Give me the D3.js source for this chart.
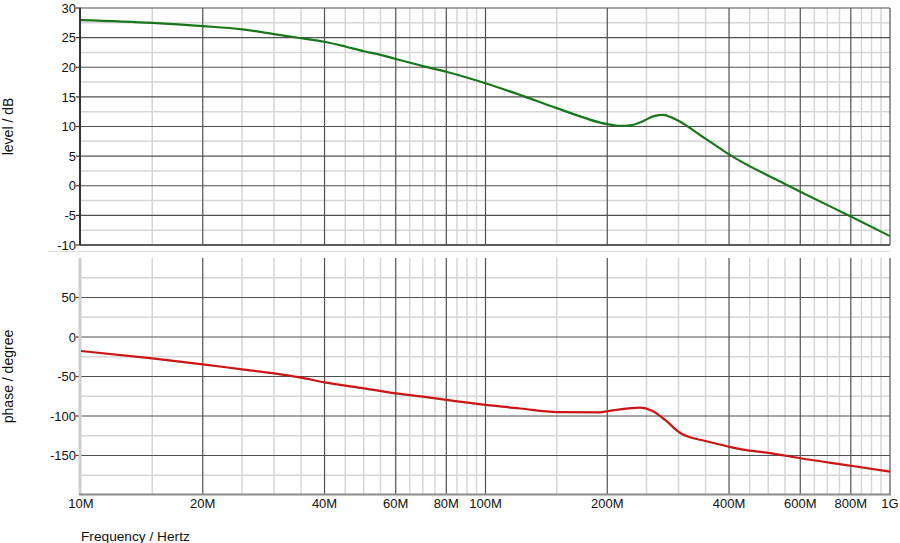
<!DOCTYPE html>
<html>
<head>
<meta charset="utf-8">
<script src="https://cdn.jsdelivr.net/npm/d3@7"></script>
<style>
  html, body { margin: 0; padding: 0; background: #fff; }
  svg { display: block; font-family: "Liberation Sans", Arial, sans-serif; }
</style>
</head>
<body>
<svg id="chart" width="900" height="543"></svg>
<script>
// ---------- data ----------
const levelFreqMHz = [10, 15, 20, 25, 30, 35, 40, 45, 50, 55, 60, 70, 80, 100, 122, 150, 200, 215, 230, 245, 262, 275, 289, 303, 339, 380, 400, 550, 600, 800, 1000];
const levelDb      = [27.97, 27.5, 26.95, 26.4, 25.6, 24.9, 24.3, 23.5, 22.7, 22.1, 21.4, 20.2, 19.25, 17.3, 15.3, 13.1, 10.4, 10.1, 10.25, 10.9, 11.8, 11.95, 11.5, 10.8, 8.57, 6.3, 5.3, 0.3, -1.0, -5.2, -8.5];

const phaseFreqMHz = [10, 15, 20, 25, 30, 35, 40, 50, 60, 70, 80, 100, 122, 150, 192, 200, 215, 241, 258, 278, 303, 320, 339, 400, 426, 505, 600, 800, 1000];
const phaseDeg     = [-17.7, -27, -34.6, -40.9, -46, -51.5, -57.4, -65, -71.3, -75.5, -79.7, -86, -90.5, -95, -95.3, -94, -91.5, -89.5, -93.3, -105, -121.5, -127, -130, -138.9, -142, -147, -153.5, -163, -170.5];

const xMajorMHz = [10, 20, 40, 60, 80, 100, 200, 400, 600, 800, 1000];
const xMinorMHz = [15, 25, 30, 35, 45, 50, 55, 65, 70, 75, 85, 90, 95, 150, 250, 300, 350, 450, 500, 550, 650, 700, 750, 850, 900, 950];
const xTickLabels = ["10M", "20M", "40M", "60M", "80M", "100M", "200M", "400M", "600M", "800M", "1G"];

const levelMajor = [30, 25, 20, 15, 10, 5, 0, -5, -10];
const levelMinor = [27.5, 22.5, 17.5, 12.5, 7.5, 2.5, -2.5, -7.5];
const phaseMajor = [50, 0, -50, -100, -150];
const phaseMinor = [75, 25, -25, -75, -125, -175];

// ---------- layout ----------
const svg = d3.select("#chart");
const x = d3.scaleLog().domain([1e7, 1e9]).range([81, 890]);
const yTop = d3.scaleLinear().domain([-10, 30]).range([245, 8]);
const yBot = d3.scaleLinear().domain([-200, 100]).range([495, 258]);

const MAJ = "#505050", MIN = "#d6d6d6";

function panel(y, majorVals, minorVals, yTopPx, yBotPx) {
  const g = svg.append("g");
  g.selectAll(".vmin").data(xMinorMHz).join("line")
    .attr("x1", d => x(d * 1e6)).attr("x2", d => x(d * 1e6))
    .attr("y1", yTopPx).attr("y2", yBotPx)
    .attr("stroke", MIN).attr("stroke-width", 1.5);
  g.selectAll(".hmin").data(minorVals).join("line")
    .attr("x1", x(1e7)).attr("x2", x(1e9))
    .attr("y1", d => y(d)).attr("y2", d => y(d))
    .attr("stroke", MIN).attr("stroke-width", 1.5);
  g.selectAll(".vmaj").data(xMajorMHz.slice(1)).join("line")
    .attr("x1", d => x(d * 1e6)).attr("x2", d => x(d * 1e6))
    .attr("y1", yTopPx).attr("y2", yBotPx)
    .attr("stroke", MAJ).attr("stroke-width", 1.2);
  g.selectAll(".hmaj").data(majorVals).join("line")
    .attr("x1", x(1e7)).attr("x2", x(1e9))
    .attr("y1", d => y(d)).attr("y2", d => y(d))
    .attr("stroke", MAJ).attr("stroke-width", 1.2);
  g.selectAll(".tk").data(majorVals).join("line")
    .attr("x1", 76).attr("x2", 81)
    .attr("y1", d => y(d)).attr("y2", d => y(d))
    .attr("stroke", "#333").attr("stroke-width", 1.2);
  g.selectAll(".tl").data(majorVals).join("text")
    .attr("x", 76).attr("y", d => y(d)).attr("dy", "0.36em")
    .attr("text-anchor", "end").attr("font-size", 13).attr("fill", "#111")
    .text(d => d);
  return g;
}

panel(yTop, levelMajor, levelMinor, 8, 245);
panel(yBot, phaseMajor, phaseMinor, 258, 494);

// axes lines
svg.append("line").attr("x1", 80).attr("x2", 890).attr("y1", 245).attr("y2", 245)
  .attr("stroke", "#444").attr("stroke-width", 1.6);
svg.append("line").attr("x1", 80).attr("x2", 80).attr("y1", 8).attr("y2", 245)
  .attr("stroke", "#333").attr("stroke-width", 2);
svg.append("line").attr("x1", 48).attr("x2", 890).attr("y1", 251.5).attr("y2", 251.5)
  .attr("stroke", "#dcdcdc").attr("stroke-width", 1.2);
svg.append("line").attr("x1", 80).attr("x2", 80).attr("y1", 258).attr("y2", 494)
  .attr("stroke", "#cfcfcf").attr("stroke-width", 3);
svg.append("line").attr("x1", 79).attr("x2", 891).attr("y1", 494.5).attr("y2", 494.5)
  .attr("stroke", "#8a8a8a").attr("stroke-width", 2);

// x tick labels
svg.selectAll(".xl").data(xMajorMHz).join("text")
  .attr("x", d => x(d * 1e6)).attr("y", 508)
  .attr("text-anchor", "middle").attr("font-size", 13).attr("fill", "#111")
  .text((d, i) => xTickLabels[i]);

// axis titles
svg.append("text").attr("transform", "translate(13,126.5) rotate(-90)")
  .attr("text-anchor", "middle").attr("font-size", 14).attr("fill", "#111").text("level / dB");
svg.append("text").attr("transform", "translate(13,376.5) rotate(-90)")
  .attr("text-anchor", "middle").attr("font-size", 14).attr("fill", "#111").text("phase / degree");
svg.append("text").attr("x", 81).attr("y", 541)
  .attr("font-size", 13.7).attr("fill", "#111").text("Frequency / Hertz");

// curves
const lvl = levelFreqMHz.map((f, i) => [f * 1e6, levelDb[i]]);
const ph = phaseFreqMHz.map((f, i) => [f * 1e6, phaseDeg[i]]);
svg.append("path").datum(lvl)
  .attr("d", d3.line().x(d => x(d[0])).y(d => yTop(d[1])).curve(d3.curveMonotoneX))
  .attr("fill", "none").attr("stroke", "#17771a").attr("stroke-width", 2.2);
svg.append("path").datum(ph)
  .attr("d", d3.line().x(d => x(d[0])).y(d => yBot(d[1])).curve(d3.curveMonotoneX))
  .attr("fill", "none").attr("stroke", "#cc1414").attr("stroke-width", 2.2);
</script>
</body>
</html>
